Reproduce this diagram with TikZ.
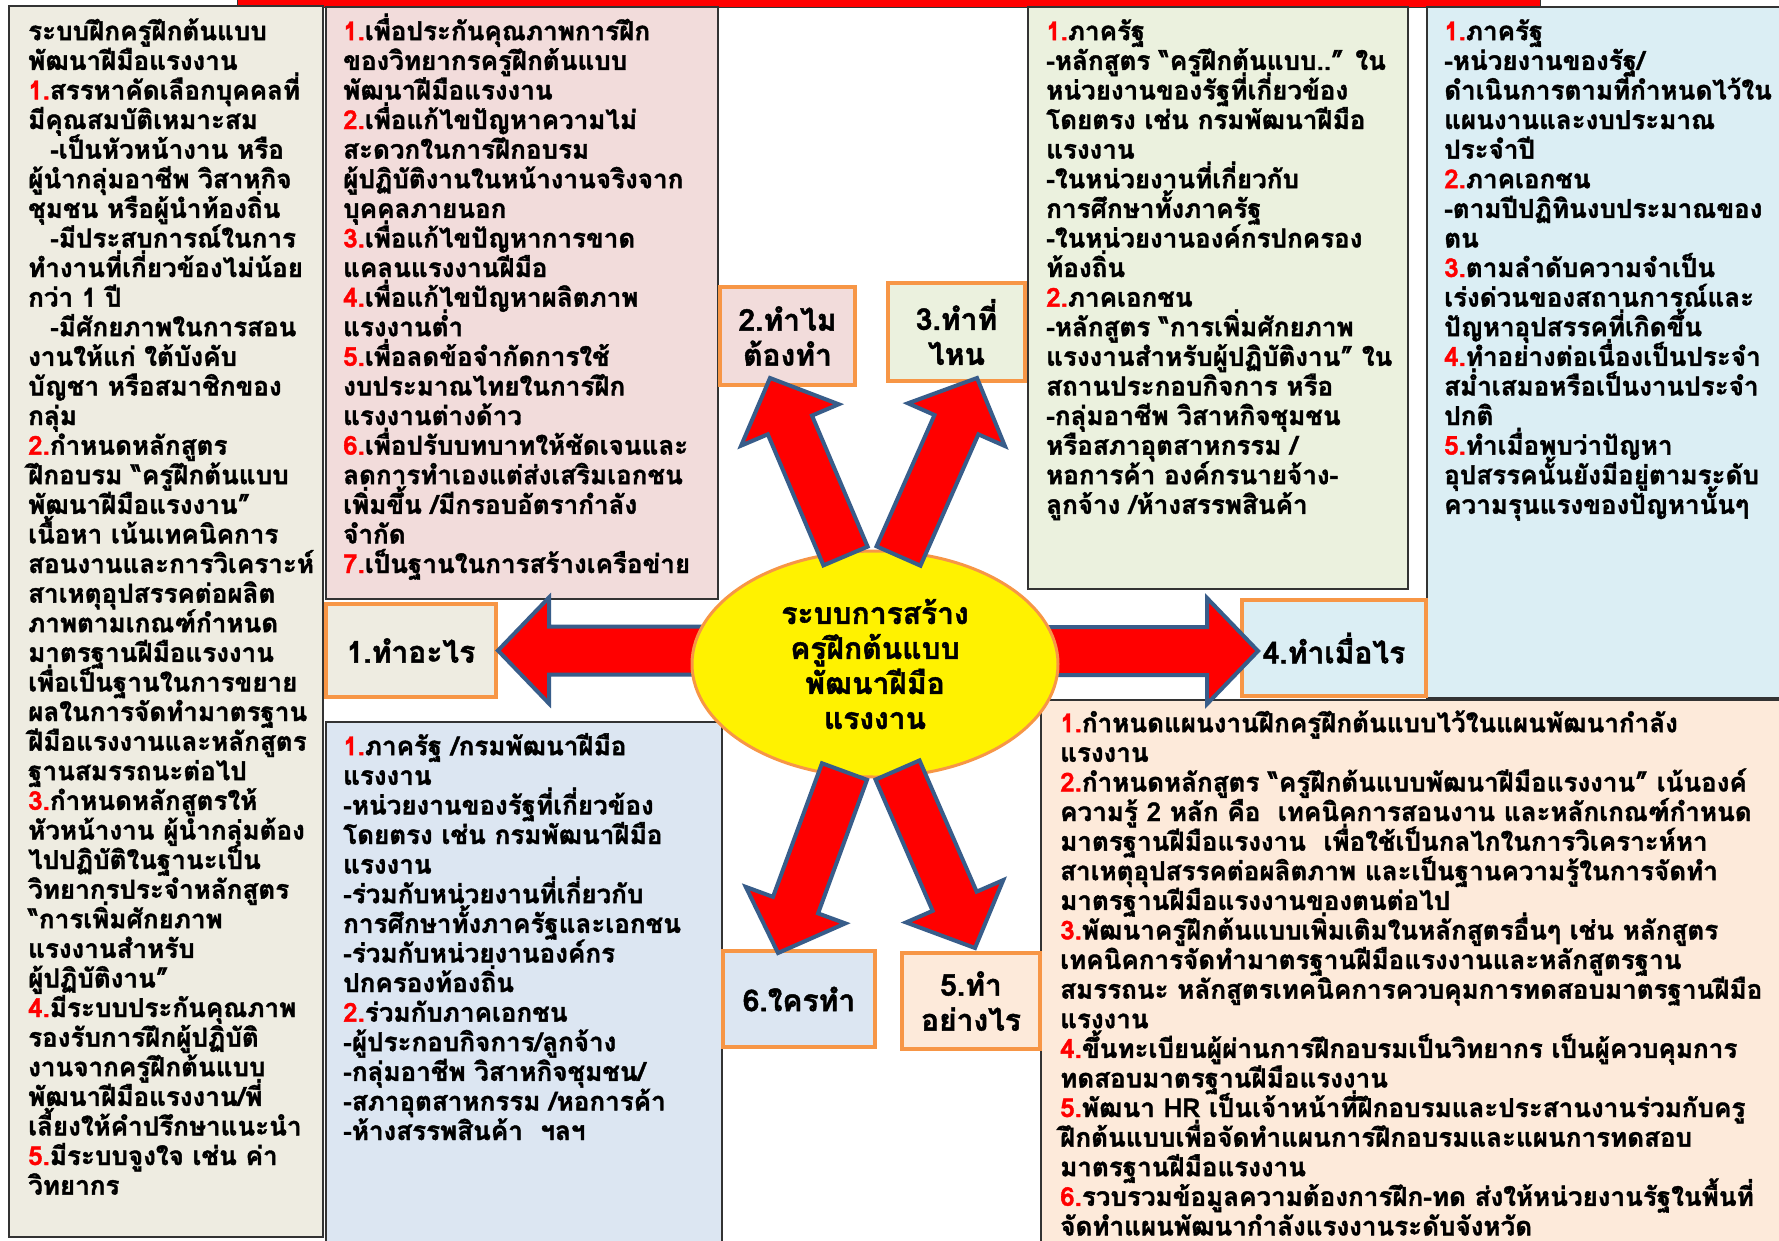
\documentclass[tikz,border=0pt]{standalone}
\usepackage{fontspec}
\setmainfont[Script=Thai,BoldFeatures={FakeBold=1.5}]{Loma}
\usetikzlibrary{calc,shapes.geometric}

\definecolor{beige}{HTML}{EEECE1}
\definecolor{pinkbg}{HTML}{F2DCDB}
\definecolor{greenbg}{HTML}{EBF1DE}
\definecolor{aquabg}{HTML}{DBEEF4}
\definecolor{bluebg}{HTML}{DCE6F2}
\definecolor{peachbg}{HTML}{FDEADA}
\definecolor{orangeln}{HTML}{F79646}
\definecolor{arrowln}{HTML}{385D8A}

\newcommand\redno[1]{\textcolor{red}{#1.}}
\newcommand\topstrut{\rule{0pt}{28pt}}
\newcommand\tightlines{\setlength{\lineskiplimit}{-100pt}}
% block arrow from tail #1 to tip #2
\newcommand\bigarrow[2]{%
  \coordinate (hb) at ($(#2)!51pt!(#1)$);
  \draw[blockarrow] ($(#1)!24pt!90:(#2)$) -- ($(hb)!24pt!90:(#2)$) -- ($(hb)!53pt!90:(#2)$)
    -- (#2) -- ($(hb)!53pt!-90:(#2)$) -- ($(hb)!24pt!-90:(#2)$) -- ($(#1)!24pt!-90:(#2)$) -- cycle;}

\begin{document}
\begin{tikzpicture}[x=1pt,y=-1pt,
  bigbox/.style={draw=black!80,line width=2pt},
  txt/.style={anchor=north west,align=left,inner sep=0pt,
    font=\fontsize{26}{29.6}\selectfont\bfseries\tightlines},
  askbox/.style={draw=orangeln,line width=4pt,align=center,inner sep=0pt,
    font=\fontsize{30}{35}\selectfont\bfseries\tightlines},
  blockarrow/.style={fill=red,draw=arrowln,line width=4pt,line join=miter}]
\useasboundingbox (0,0) rectangle (1779,1240);
\fill[white] (0,0) rectangle (1779,1240);

% red strip at the top
\draw[fill=red,draw=black!80,line width=1pt] (237,-5) rectangle (1540,7);

% the six panels
\draw[bigbox,fill=beige] (9,6) rectangle (323,1237);
\draw[bigbox,fill=pinkbg] (326,7) rectangle (718,599);
\draw[bigbox,fill=greenbg] (1028,7) rectangle (1408,589);
\draw[bigbox,fill=aquabg] (1427,7) rectangle (1781,698);
\draw[bigbox,fill=bluebg] (326,722) rectangle (722,1242);
\draw[bigbox,fill=peachbg] (1041,700) rectangle (1781,1242);

% question boxes
\node[askbox,fill=beige,minimum width=170pt,minimum height=93pt] (what) at (411,650.5) {1.ทำอะไร};
\node[askbox,fill=pinkbg,minimum width=135pt,minimum height=98pt] (why) at (787.5,336) {2.ทำไม\\ต้องทำ};
\node[askbox,fill=greenbg,minimum width=137pt,minimum height=98pt] (where) at (956.5,332) {3.ทำที่\\ไหน};
\node[askbox,fill=aquabg,minimum width=184pt,minimum height=96pt] (when) at (1334,648) {4.ทำเมื่อไร};
\node[askbox,fill=peachbg,minimum width=138pt,minimum height=96pt] (how) at (971,1001) {5.ทำ\\อย่างไร};
\node[askbox,fill=bluebg,minimum width=152pt,minimum height=96pt] (who) at (799,999) {6.ใครทำ};

% arrows left and right
\coordinate (lt) at (720,650.5);
\coordinate (rt) at (1030,651);
\coordinate (rtip) at (1258,651);
\bigarrow{lt}{what.east}
\bigarrow{rt}{rtip}

\node[draw=orangeln,line width=3pt,fill=yellow,ellipse,minimum width=366pt,minimum height=226pt,
  inner sep=0pt,align=center,font=\fontsize{30}{35}\selectfont\bfseries\tightlines] (hub) at (875,664)
  {ระบบการสร้าง\\ครูฝึกต้นแบบ\\พัฒนาฝีมือ\\แรงงาน};

% arrows up and down
\coordinate (ul) at (845.5,556);
\coordinate (ur) at (898.5,556);
\coordinate (dl) at (844.5,771.5);
\coordinate (dr) at (897.5,770);
\coordinate (ultip) at (770,378);
\coordinate (urtip) at (977,378);
\coordinate (dltip) at (778,953);
\coordinate (drtip) at (975,948);
\bigarrow{ul}{ultip}
\bigarrow{ur}{urtip}
\bigarrow{dl}{dltip}
\bigarrow{dr}{drtip}

% texts of the panels
\node[txt] (whattext) at (28,12) {\topstrut ระบบฝึกครูฝึกต้นแบบ\\
พัฒนาฝีมือแรงงาน\\
\redno1สรรหาคัดเลือกบุคคลที่\\
มีคุณสมบัติเหมาะสม\\
\hspace*{22pt}-เป็นหัวหน้างาน หรือ\\
ผู้นำกลุ่มอาชีพ วิสาหกิจ\\
ชุมชน หรือผู้นำท้องถิ่น\\
\hspace*{22pt}-มีประสบการณ์ในการ\\
ทำงานที่เกี่ยวข้องไม่น้อย\\
กว่า 1 ปี\\
\hspace*{22pt}-มีศักยภาพในการสอน\\
งานให้แก่ ใต้บังคับ\\
บัญชา หรือสมาชิกของ\\
กลุ่ม\\
\redno2กำหนดหลักสูตร\\
ฝึกอบรม “ครูฝึกต้นแบบ\\
พัฒนาฝีมือแรงงาน”\\
เนื้อหา เน้นเทคนิคการ\\
สอนงานและการวิเคราะห์\\
สาเหตุอุปสรรคต่อผลิต\\
ภาพตามเกณฑ์กำหนด\\
มาตรฐานฝีมือแรงงาน\\
เพื่อเป็นฐานในการขยาย\\
ผลในการจัดทำมาตรฐาน\\
ฝีมือแรงงานและหลักสูตร\\
ฐานสมรรถนะต่อไป\\
\redno3กำหนดหลักสูตรให้\\
หัวหน้างาน ผู้นำกลุ่มต้อง\\
ไปปฏิบัติในฐานะเป็น\\
วิทยากรประจำหลักสูตร\\
“การเพิ่มศักยภาพ\\
แรงงานสำหรับ\\
ผู้ปฏิบัติงาน”\\
\redno4มีระบบประกันคุณภาพ\\
รองรับการฝึกผู้ปฏิบัติ\\
งานจากครูฝึกต้นแบบ\\
พัฒนาฝีมือแรงงาน/พี่\\
เลี้ยงให้คำปรึกษาแนะนำ\\
\redno5มีระบบจูงใจ เช่น ค่า\\
วิทยากร};

\node[txt] (whytext) at (343,12) {\topstrut\redno1เพื่อประกันคุณภาพการฝึก\\
ของวิทยากรครูฝึกต้นแบบ\\
พัฒนาฝีมือแรงงาน\\
\redno2เพื่อแก้ไขปัญหาความไม่\\
สะดวกในการฝึกอบรม\\
ผู้ปฏิบัติงานในหน้างานจริงจาก\\
บุคคลภายนอก\\
\redno3เพื่อแก้ไขปัญหาการขาด\\
แคลนแรงงานฝีมือ\\
\redno4เพื่อแก้ไขปัญหาผลิตภาพ\\
แรงงานต่ำ\\
\redno5เพื่อลดข้อจำกัดการใช้\\
งบประมาณไทยในการฝึก\\
แรงงานต่างด้าว\\
\redno6เพื่อปรับบทบาทให้ชัดเจนและ\\
ลดการทำเองแต่ส่งเสริมเอกชน\\
เพิ่มขึ้น /มีกรอบอัตรากำลัง\\
จำกัด\\
\redno7เป็นฐานในการสร้างเครือข่าย};

\node[txt] (wheretext) at (1046,12) {\topstrut\redno1ภาครัฐ\\
-หลักสูตร “ครูฝึกต้นแบบ..” ใน\\
หน่วยงานของรัฐที่เกี่ยวข้อง\\
โดยตรง เช่น กรมพัฒนาฝีมือ\\
แรงงาน\\
-ในหน่วยงานที่เกี่ยวกับ\\
การศึกษาทั้งภาครัฐ\\
-ในหน่วยงานองค์กรปกครอง\\
ท้องถิ่น\\
\redno2ภาคเอกชน\\
-หลักสูตร “การเพิ่มศักยภาพ\\
แรงงานสำหรับผู้ปฏิบัติงาน” ใน\\
สถานประกอบกิจการ หรือ\\
-กลุ่มอาชีพ วิสาหกิจชุมชน\\
หรือสภาอุตสาหกรรม /\\
หอการค้า องค์กรนายจ้าง-\\
ลูกจ้าง /ห้างสรรพสินค้า};

\node[txt] (whentext) at (1444,12) {\topstrut\redno1ภาครัฐ\\
-หน่วยงานของรัฐ/\\
ดำเนินการตามที่กำหนดไว้ใน\\
แผนงานและงบประมาณ\\
ประจำปี\\
\redno2ภาคเอกชน\\
-ตามปีปฏิทินงบประมาณของ\\
ตน\\
\redno3ตามลำดับความจำเป็น\\
เร่งด่วนของสถานการณ์และ\\
ปัญหาอุปสรรคที่เกิดขึ้น\\
\redno4ทำอย่างต่อเนื่องเป็นประจำ\\
สม่ำเสมอหรือเป็นงานประจำ\\
ปกติ\\
\redno5ทำเมื่อพบว่าปัญหา\\
อุปสรรคนั้นยังมีอยู่ตามระดับ\\
ความรุนแรงของปัญหานั้นๆ};

\node[txt] (whotext) at (343,727) {\topstrut\redno1ภาครัฐ /กรมพัฒนาฝีมือ\\
แรงงาน\\
-หน่วยงานของรัฐที่เกี่ยวข้อง\\
โดยตรง เช่น กรมพัฒนาฝีมือ\\
แรงงาน\\
-ร่วมกับหน่วยงานที่เกี่ยวกับ\\
การศึกษาทั้งภาครัฐและเอกชน\\
-ร่วมกับหน่วยงานองค์กร\\
ปกครองท้องถิ่น\\
\redno2ร่วมกับภาคเอกชน\\
-ผู้ประกอบกิจการ/ลูกจ้าง\\
-กลุ่มอาชีพ วิสาหกิจชุมชน/\\
-สภาอุตสาหกรรม /หอการค้า\\
-ห้างสรรพสินค้า~~ฯลฯ};

\node[txt] (howtext) at (1060,704) {\topstrut\redno1กำหนดแผนงานฝึกครูฝึกต้นแบบไว้ในแผนพัฒนากำลัง\\
แรงงาน\\
\redno2กำหนดหลักสูตร “ครูฝึกต้นแบบพัฒนาฝีมือแรงงาน” เน้นองค์\\
ความรู้ 2 หลัก คือ~~เทคนิคการสอนงาน และหลักเกณฑ์กำหนด\\
มาตรฐานฝีมือแรงงาน~~เพื่อใช้เป็นกลไกในการวิเคราะห์หา\\
สาเหตุอุปสรรคต่อผลิตภาพ และเป็นฐานความรู้ในการจัดทำ\\
มาตรฐานฝีมือแรงงานของตนต่อไป\\
\redno3พัฒนาครูฝึกต้นแบบเพิ่มเติมในหลักสูตรอื่นๆ เช่น หลักสูตร\\
เทคนิคการจัดทำมาตรฐานฝีมือแรงงานและหลักสูตรฐาน\\
สมรรถนะ หลักสูตรเทคนิคการควบคุมการทดสอบมาตรฐานฝีมือ\\
แรงงาน\\
\redno4ขึ้นทะเบียนผู้ผ่านการฝึกอบรมเป็นวิทยากร เป็นผู้ควบคุมการ\\
ทดสอบมาตรฐานฝีมือแรงงาน\\
\redno5พัฒนา HR เป็นเจ้าหน้าที่ฝึกอบรมและประสานงานร่วมกับครู\\
ฝึกต้นแบบเพื่อจัดทำแผนการฝึกอบรมและแผนการทดสอบ\\
มาตรฐานฝีมือแรงงาน\\
\redno6รวบรวมข้อมูลความต้องการฝึก-ทด ส่งให้หน่วยงานรัฐในพื้นที่\\
จัดทำแผนพัฒนากำลังแรงงานระดับจังหวัด};

\end{tikzpicture}
\end{document}
